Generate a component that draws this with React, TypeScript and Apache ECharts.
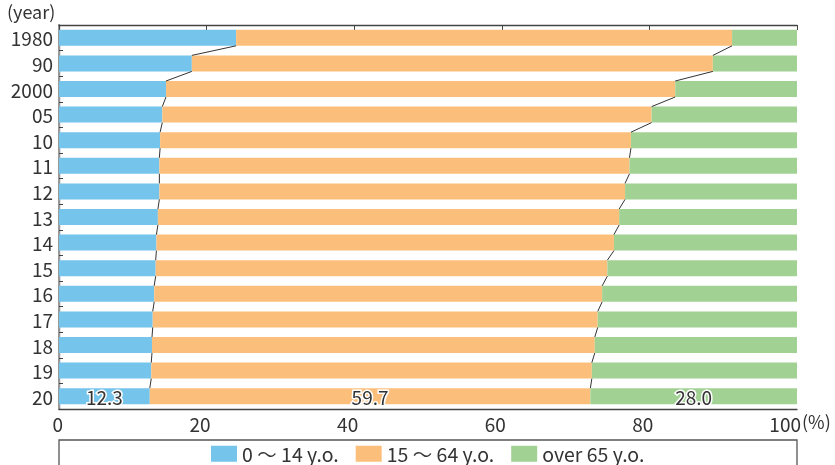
import React, { useEffect, useRef } from "react";
import * as echarts from "echarts";

const years = ["1980", "90", "2000", "05", "10", "11", "12", "13", "14", "15", "16", "17", "18", "19", "20"];
const young = [24.0, 18.0, 14.5, 14.0, 13.7, 13.6, 13.6, 13.4, 13.2, 13.1, 12.9, 12.7, 12.6, 12.5, 12.3];
const working = [67.2, 70.6, 69.0, 66.3, 63.8, 63.7, 63.1, 62.5, 62.0, 61.2, 60.7, 60.3, 60.0, 59.7, 59.7];
const elderly = [8.8, 11.4, 16.5, 19.7, 22.5, 22.7, 23.3, 24.1, 24.8, 25.7, 26.4, 27.0, 27.4, 27.8, 28.0];
const seriesNames = ["0 ～ 14 y.o.", "15 ～ 64 y.o.", "over 65 y.o."];
const xTicks = [0, 20, 40, 60, 80, 100];

const FONT = "'Noto Sans CJK JP', 'Noto Sans', sans-serif";
const TEXT = "#333333";
const BAR_W = 16;
const colors = ["#74C4EC", "#FCBF7B", "#A2D293"];

export default function App() {
  const ref = useRef<HTMLDivElement>(null);
  useEffect(() => {
    const chart = echarts.init(ref.current!, null, { renderer: "svg" });
    const last = years.length - 1;
    const mk = (arr: number[]) =>
      arr.map((v, i) =>
        i === last
          ? {
              value: v,
              label: {
                show: true,
                position: "inside",
                formatter: (p: any) => p.value.toFixed(1),
                fontSize: 19,
                fontFamily: FONT,
                color: TEXT,
                textBorderColor: "#fff",
                textBorderWidth: 3,
              },
            }
          : v
      );
    const lineData = years.slice(0, -1).map((_, i) => [
      young[i],
      i,
      young[i + 1],
      i + 1,
      young[i] + working[i],
      young[i + 1] + working[i + 1],
    ]);
    const option: any = {
      animation: false,
      textStyle: { fontFamily: FONT },
      title: {
        text: "(year)",
        left: 7,
        top: 2,
        padding: 0,
        textStyle: { fontSize: 18, fontWeight: "normal", color: TEXT, fontFamily: FONT },
      },
      grid: { left: 59, right: 38, top: 25, bottom: 56, containLabel: false },
      legend: {
        data: seriesNames,
        left: 211,
        top: 444,
        padding: 0,
        itemWidth: 26,
        itemHeight: 16,
        itemGap: 17,
        icon: "rect",
        textStyle: { fontSize: 19.5, lineHeight: 19, color: TEXT, fontFamily: FONT },
      },
      xAxis: [
        {
          type: "value",
          min: xTicks[0],
          max: xTicks[xTicks.length - 1],
          interval: xTicks[1] - xTicks[0],
          position: "bottom",
          axisLine: { show: true, lineStyle: { color: "#444", width: 1.3 } },
          axisTick: { show: false },
          splitLine: { show: false },
          axisLabel: {
            fontSize: 19,
            color: TEXT,
            fontFamily: FONT,
            margin: 5,
            align: "right",
            padding: [0, -4, 0, 0],
          },
        },
        {
          type: "value",
          min: xTicks[0],
          max: xTicks[xTicks.length - 1],
          interval: xTicks[1] - xTicks[0],
          position: "top",
          axisLine: { show: true, lineStyle: { color: "#444", width: 1.3 } },
          axisTick: { show: true, inside: true, length: 5, lineStyle: { color: "#444" } },
          axisLabel: { show: false },
          splitLine: { show: false },
        },
      ],
      yAxis: [
        {
          type: "category",
          data: years,
          inverse: true,
          axisLine: { show: true, lineStyle: { color: "#444", width: 1.3 } },
          axisTick: { show: true, inside: true, length: 4, lineStyle: { color: "#444" } },
          axisLabel: { fontSize: 19, color: TEXT, fontFamily: FONT, margin: 6 },
        },
        {
          type: "category",
          data: years,
          inverse: true,
          position: "right",
          axisLine: { show: true, lineStyle: { color: "#999", width: 2 } },
          axisTick: { show: false },
          axisLabel: { show: false },
        },
      ],
      graphic: [
        {
          type: "text",
          left: 802,
          top: 412,
          style: { text: "(%)", fontSize: 18, fill: TEXT, fontFamily: FONT },
        },
        {
          type: "polyline",
          shape: { points: [[59, 466], [59, 440], [797, 440], [797, 466]] },
          style: { fill: "none", stroke: "#555", lineWidth: 1.3 },
        },
      ],
      series: [
        { name: seriesNames[0], type: "bar", stack: "t", barWidth: BAR_W, itemStyle: { color: colors[0] }, data: mk(young) },
        { name: seriesNames[1], type: "bar", stack: "t", barWidth: BAR_W, itemStyle: { color: colors[1] }, data: mk(working) },
        { name: seriesNames[2], type: "bar", stack: "t", barWidth: BAR_W, itemStyle: { color: colors[2] }, data: mk(elderly) },
        {
          type: "custom",
          silent: true,
          z: 5,
          encode: { x: [0, 2, 4, 5], y: [1, 3] },
          data: lineData,
          renderItem: (params: any, api: any) => {
            const h = BAR_W / 2;
            const a1 = api.coord([api.value(0), api.value(1)]);
            const a2 = api.coord([api.value(2), api.value(3)]);
            const b1 = api.coord([api.value(4), api.value(1)]);
            const b2 = api.coord([api.value(5), api.value(3)]);
            const st = { stroke: "#333", lineWidth: 1 };
            return {
              type: "group",
              children: [
                { type: "line", shape: { x1: a1[0], y1: a1[1] + h, x2: a2[0], y2: a2[1] - h }, style: st },
                { type: "line", shape: { x1: b1[0], y1: b1[1] + h, x2: b2[0], y2: b2[1] - h }, style: st },
              ],
            };
          },
        },
      ],
    };
    chart.setOption(option);
    return () => chart.dispose();
  }, []);
  return <div ref={ref} style={{ position: "fixed", left: 0, top: 0, width: 835, height: 465 }} />;
}
